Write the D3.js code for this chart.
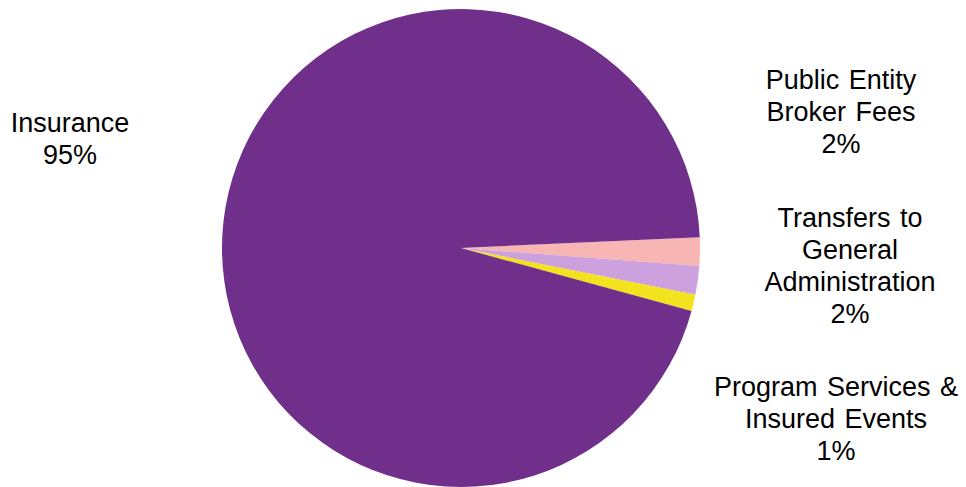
<!DOCTYPE html>
<html><head><meta charset="utf-8">
<script src="https://cdn.jsdelivr.net/npm/d3@7"></script>
<style>html,body{margin:0;padding:0;background:#fff;}svg{display:block;}</style>
</head><body>
<svg id="chart" width="966" height="487"></svg>
<script>
const categories = ["Insurance", "Public Entity Broker Fees", "Transfers to General Administration", "Program Services & Insured Events"];
const values = [95.03, 1.92, 1.94, 1.11];
const percentLabels = ["95%", "2%", "2%", "1%"];
const labelLines = [["Insurance"], ["Public Entity", "Broker Fees"], ["Transfers to", "General", "Administration"], ["Program Services &", "Insured Events"]];
const colors = ["#702F8A", "#F7B6B3", "#CDA1DE", "#F2E31E"];

const svg = d3.select("#chart");
const cx = 461, cy = 248, r = 239;
const deg = Math.PI / 180;
// slice order clockwise: Public, Transfers, Program, Insurance; first slice starts just above 3 o'clock
const order = [1, 2, 3, 0];
const start = 87.4 * deg;
const pie = d3.pie().sort(null).value(i => values[i]).startAngle(start).endAngle(start + 2 * Math.PI);
const arcs = pie(order);
const arc = d3.arc().innerRadius(0).outerRadius(r);
svg.append("g").attr("transform", `translate(${cx},${cy})`)
  .selectAll("path").data(arcs).join("path")
  .attr("d", arc).attr("fill", d => colors[d.data]);

const labelPos = [
  {x: 70, y: 132},
  {x: 841, y: 89},
  {x: 850, y: 227},
  {x: 836, y: 396}
];
const lh = 32;
const g = svg.append("g").attr("font-family", "'Liberation Sans', Arial, sans-serif").attr("font-size", "27px").attr("fill", "#000").attr("text-anchor", "middle").attr("word-spacing", "2px");
categories.forEach((c, i) => {
  const lines = labelLines[i].concat([percentLabels[i]]);
  const t = g.append("text").attr("x", labelPos[i].x).attr("y", labelPos[i].y);
  lines.forEach((ln, k) => {
    t.append("tspan").attr("x", labelPos[i].x).attr("dy", k === 0 ? 0 : lh).text(ln);
  });
});
</script>
</body></html>
